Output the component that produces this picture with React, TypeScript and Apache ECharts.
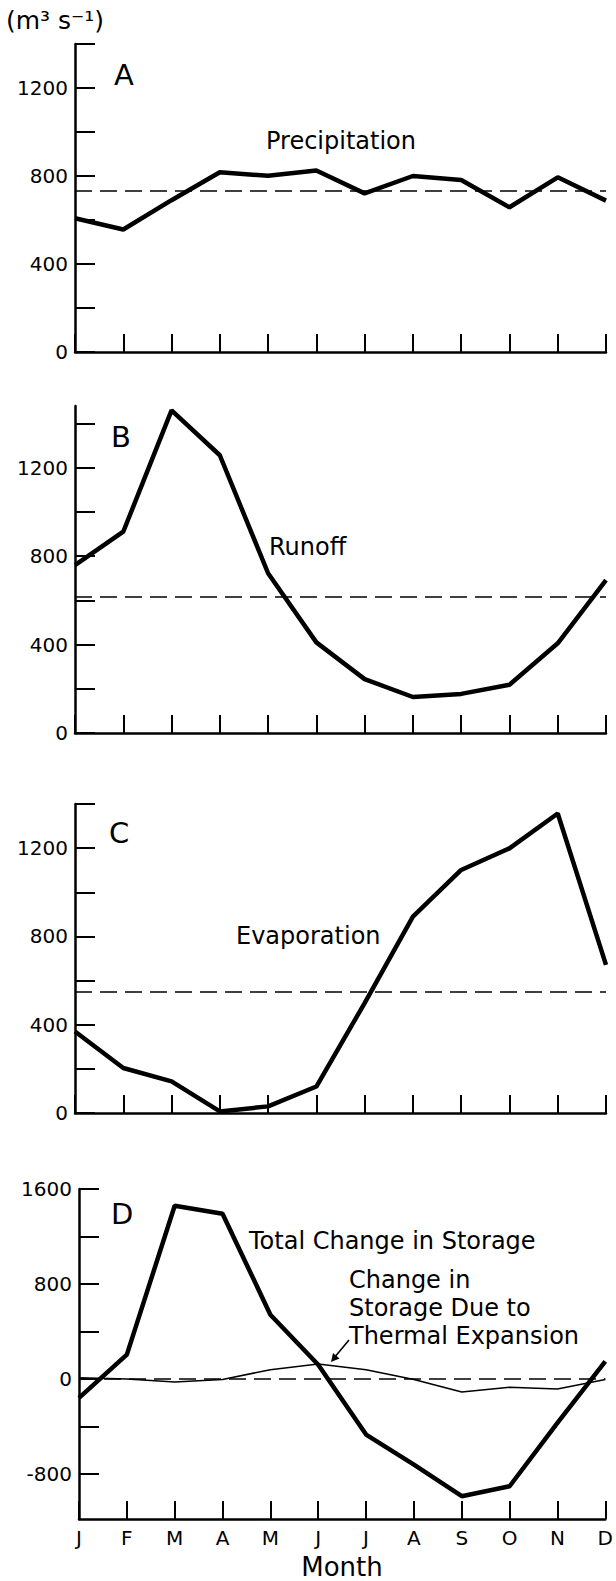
import React, { useEffect, useRef } from "react";
import * as echarts from "echarts";

const months = ["J", "F", "M", "A", "M", "J", "J", "A", "S", "O", "N", "D"];
const precipitation = [608, 557, 690, 817, 801, 825, 721, 800, 782, 658, 794, 688];
const precipitationMean = 735;
const runoff = [760, 911, 1460, 1257, 723, 410, 244, 163, 177, 218, 406, 692];
const runoffMean = 617;
const evaporation = [369, 204, 143, 7, 30, 120, 498, 890, 1101, 1199, 1357, 671];
const evaporationMean = 550;
const totalStorage = [-160, 205, 1459, 1392, 541, 120, -469, -722, -988, -904, -370, 148];
const thermalStorage = [10, 0, -25, -5, 78, 125, 78, -5, -110, -70, -85, -5];
const storageMean = 0;

const ticksABC = [0, 200, 400, 600, 800, 1000, 1200, 1400];
const labelsABC = [0, 400, 800, 1200];
const ticksD = [-800, -400, 0, 400, 800, 1200, 1600];
const labelsD = [-800, 0, 800, 1600];

const FONT = '"DejaVu Sans", sans-serif';

export default function App() {
  const ref = useRef<HTMLDivElement>(null);
  useEffect(() => {
    if (!ref.current) return;
    const chart = echarts.init(ref.current, undefined, { renderer: "svg" });

    const grids = [
      { left: 75, top: 44, width: 531, height: 308 },
      { left: 75, top: 406, width: 531, height: 327 },
      { left: 75, top: 804, width: 531, height: 309 },
      { left: 79, top: 1189, width: 530, height: 330 },
    ];
    const yRanges = [
      [0, 1400],
      [0, 1480],
      [0, 1400],
      [-1180, 1600],
    ];

    const xAxes = grids.map((_, i) => ({
      type: "category",
      gridIndex: i,
      data: months,
      boundaryGap: false,
      axisLine: { onZero: false, lineStyle: { color: "#000", width: 2.5 } },
      axisTick: { inside: true, length: 18, interval: 0, lineStyle: { color: "#000", width: 2 } },
      axisLabel: {
        show: i === 3,
        interval: 0,
        color: "#000",
        fontFamily: FONT,
        fontSize: 20,
        margin: 9,
      },
      splitLine: { show: false },
    }));

    const yAxes = grids.map((_, i) => ({
      type: "value",
      gridIndex: i,
      min: yRanges[i][0],
      max: yRanges[i][1],
      axisLine: { show: true, lineStyle: { color: "#000", width: 2.5 } },
      axisTick: {
        show: true,
        inside: true,
        length: 20,
        customValues: i === 3 ? ticksD : ticksABC,
        lineStyle: { color: "#000", width: 2 },
      },
      axisLabel: {
        customValues: i === 3 ? labelsD : labelsABC,
        color: "#000",
        fontFamily: FONT,
        fontSize: 20,
        margin: 7,
        formatter: (v: number) => String(v),
      },
      splitLine: { show: false },
    }));

    const meanLine = (value: number) => ({
      silent: true,
      symbol: "none",
      label: { show: false },
      lineStyle: { color: "#000", width: 1.7, type: [17, 8] },
      data: [{ yAxis: value }],
    });

    const thick = { color: "#000", width: 4.5 };

    const series: any[] = [
      {
        type: "line", xAxisIndex: 0, yAxisIndex: 0, data: precipitation,
        symbol: "none", lineStyle: thick, markLine: meanLine(precipitationMean),
      },
      {
        type: "line", xAxisIndex: 1, yAxisIndex: 1, data: runoff,
        symbol: "none", lineStyle: thick, markLine: meanLine(runoffMean),
      },
      {
        type: "line", xAxisIndex: 2, yAxisIndex: 2, data: evaporation,
        symbol: "none", lineStyle: thick, markLine: meanLine(evaporationMean),
      },
      {
        type: "line", xAxisIndex: 3, yAxisIndex: 3, data: thermalStorage,
        symbol: "none", lineStyle: { color: "#000", width: 1.5 }, markLine: meanLine(storageMean),
      },
      {
        type: "line", xAxisIndex: 3, yAxisIndex: 3, data: totalStorage,
        symbol: "none", lineStyle: thick,
      },
    ];

    const txt = (text: string, x: number, y: number, size: number, align = "left") => ({
      type: "text",
      x,
      y,
      silent: true,
      style: {
        text,
        fill: "#000",
        fontFamily: FONT,
        fontSize: size,
        align,
        verticalAlign: "middle",
      },
    });

    const graphic: any[] = [
      txt("(m³ s⁻¹)", 6, 20, 25),
      txt("A", 114, 75, 29),
      txt("Precipitation", 266, 141, 24),
      txt("B", 111, 437, 29),
      txt("Runoff", 269, 547, 24),
      txt("C", 109, 833, 29),
      txt("Evaporation", 236, 936, 24),
      txt("D", 111, 1214, 29),
      txt("Total Change in Storage", 249, 1241, 24),
      txt("Change in", 349, 1280, 24),
      txt("Storage Due to", 349, 1308, 24),
      txt("Thermal Expansion", 349, 1336, 24),
      txt("Month", 342, 1567, 26, "center"),
      {
        type: "line",
        silent: true,
        shape: { x1: 349, y1: 1340, x2: 334, y2: 1358 },
        style: { stroke: "#000", lineWidth: 1.6 },
      },
      {
        type: "polygon",
        silent: true,
        shape: { points: [[331, 1362], [339.5, 1358.5], [333, 1353]] },
        style: { fill: "#000" },
      },
    ];

    chart.setOption({
      animation: false,
      backgroundColor: "#fff",
      grid: grids.map((g) => ({ ...g, containLabel: false })),
      xAxis: xAxes,
      yAxis: yAxes,
      series,
      graphic,
    });
    return () => chart.dispose();
  }, []);

  return (
    <div
      ref={ref}
      style={{ position: "absolute", left: 0, top: 0, width: 616, height: 1581, background: "#fff" }}
    />
  );
}
